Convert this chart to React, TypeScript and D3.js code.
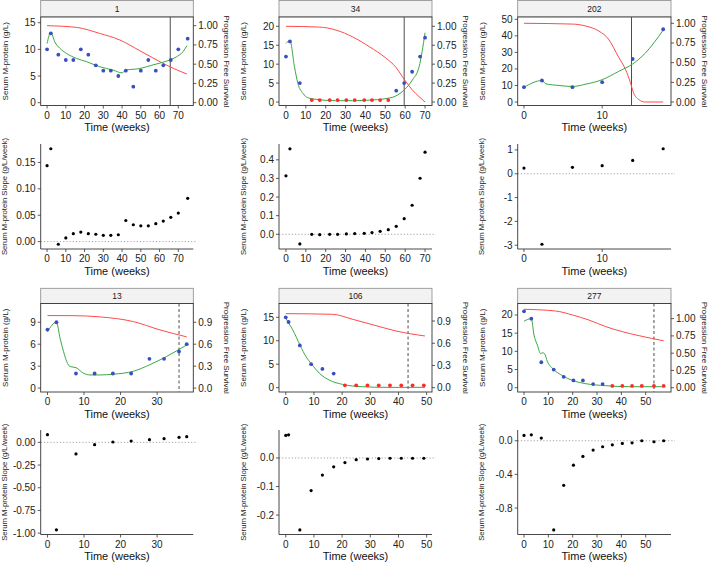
import React from "react";
import * as d3 from "d3";

// ---------------- Patient 1 ----------------
const p1Weeks = [0, 2, 6, 10, 14, 18, 22, 26, 30, 34, 38, 42, 46, 50, 54, 58, 62, 66, 70, 75];
const p1Mprot = [10, 13, 9, 8, 8, 10, 9, 7, 6, 6, 5, 6, 3, 6, 8, 6, 7, 8, 10, 12];
const p1Lod = [0, 0, 0, 0, 0, 0, 0, 0, 0, 0, 0, 0, 0, 0, 0, 0, 0, 0, 0, 0];
const p1Slope = [0.144, 0.176, -0.005, 0.007, 0.015, 0.018, 0.015, 0.014, 0.012, 0.012, 0.013, 0.04, 0.032, 0.03, 0.03, 0.034, 0.039, 0.046, 0.054, 0.082];
const p1FitWeeks = [0, 2, 4.1, 6.8, 10.3, 15.7, 21, 28, 35.3, 39.9, 42, 49.5, 56.6, 63.8, 69, 72.6, 74.6];
const p1FitVals = [11.1, 13.2, 11.4, 10.2, 9.25, 8.3, 7.7, 6.75, 6.1, 5.6, 6.1, 6.4, 7.1, 7.8, 8.6, 9.6, 10.7];
const p1SurvWeeks = [0, 15.7, 28, 38.8, 49.5, 60.2, 67.3, 74.6];
const p1SurvVals = [1.0, 0.978, 0.9, 0.814, 0.675, 0.532, 0.446, 0.372];

// ---------------- Patient 34 ----------------
const p34Weeks = [0, 2, 7, 13, 17, 22, 26, 30.4, 34.6, 39.4, 43.3, 47.4, 51.5, 55.5, 59.5, 63.5, 67.5, 70];
const p34Mprot = [12, 16, 5, 0.5, 0.5, 0.5, 0.5, 0.5, 0.5, 0.5, 0.5, 0.5, 0.5, 3, 5, 8, 12, 17];
const p34Lod = [0, 0, 0, 1, 1, 1, 1, 1, 1, 1, 1, 1, 1, 0, 0, 0, 0, 0];
const p34Slope = [0.314, 0.459, -0.052, 0, -0.002, 0, 0, 0.002, 0.004, 0.005, 0.009, 0.016, 0.025, 0.043, 0.084, 0.156, 0.301, 0.441];
const p34FitWeeks = [0, 2, 4.3, 6, 8.5, 11, 15.2, 25, 33.6, 42, 50.3, 55.3, 59.5, 63.6, 67, 70];
const p34FitVals = [15.5, 16.2, 9.3, 4.9, 2.3, 1.15, 0.7, 0.35, 0.35, 0.5, 0.9, 1.6, 3.2, 5.8, 9.3, 18.3];
const p34SurvWeeks = [0, 16.9, 25.2, 33.6, 42, 50.3, 55.3, 59.5, 63.6, 67, 70];
const p34SurvVals = [1.0, 0.99, 0.95, 0.86, 0.73, 0.58, 0.46, 0.3, 0.16, 0.07, 0.0];

// ---------------- Patient 202 ----------------
const p202Weeks = [0, 2.3, 6.2, 10, 13.9, 17.8];
const p202Mprot = [9, 13, 9, 12, 26, 44];
const p202Lod = [0, 0, 0, 0, 0, 0];
const p202Slope = [0.24, -2.96, 0.27, 0.34, 0.56, 1.05];
const p202FitWeeks = [0, 2.3, 2.8, 4.5, 6.2, 7.9, 10, 12.1, 13.9, 15.5, 17.8];
const p202FitVals = [8.9, 13, 11, 10, 9.4, 10.8, 13.5, 18.5, 23, 29.5, 43.5];
const p202SurvWeeks = [0, 6.2, 7.9, 9.6, 10.8, 12.1, 13, 13.6, 14, 14.7, 15.5, 17.8];
const p202SurvVals = [1.0, 0.99, 0.965, 0.9, 0.8, 0.57, 0.41, 0.25, 0.12, 0.03, 0.0, 0.0];

// ---------------- Patient 13 ----------------
const p13Weeks = [0, 2.45, 7.8, 12.9, 17.9, 22.9, 27.9, 31.9, 36, 38.1];
const p13Mprot = [8, 9, 2, 2, 2, 2, 4, 4, 5, 6];
const p13Lod = [0, 0, 0, 0, 0, 0, 0, 0, 0, 0];
const p13Slope = [0.084, -0.963, -0.128, -0.026, 0.004, 0.015, 0.029, 0.04, 0.055, 0.062];
const p13FitWeeks = [0, 2.45, 3.45, 4.4, 5.3, 6.2, 7.8, 9.8, 11.6, 14.4, 18, 23.5, 28, 32.5, 38.1];
const p13FitVals = [7.7, 9, 6.8, 5, 3.6, 2.95, 2.8, 2.05, 1.8, 1.8, 1.9, 2.3, 3.2, 4.3, 5.9];
const p13SurvWeeks = [0, 7, 14.4, 23.5, 30.8, 38.1];
const p13SurvVals = [0.991, 0.99, 0.973, 0.909, 0.795, 0.7];

// ---------------- Patient 106 ----------------
const p106Weeks = [0, 1, 5, 9, 13, 17, 21, 25, 29, 33, 37, 41, 45, 49];
const p106Mprot = [15, 14, 9, 5, 4, 3, 0.5, 0.5, 0.5, 0.5, 0.5, 0.5, 0.5, 0.5];
const p106Lod = [0, 0, 0, 0, 0, 0, 1, 1, 1, 1, 1, 1, 1, 1];
const p106Slope = [0.079, 0.081, -0.252, -0.114, -0.06, -0.031, -0.016, -0.006, -0.0035, -0.002, -0.001, -0.001, -0.001, -0.001];
const p106FitWeeks = [0, 0.8, 2.5, 5.1, 7.2, 9.2, 11.9, 15.5, 20.2, 27.3, 35.6, 49.4];
const p106FitVals = [14.8, 14, 12.3, 9, 6.6, 5, 3.1, 1.6, 0.7, 0.2, 0.07, 0.07];
const p106SurvWeeks = [0, 16.7, 23.8, 32, 39.1, 49.4];
const p106SurvVals = [1.0, 0.991, 0.923, 0.838, 0.766, 0.698];

// ---------------- Patient 277 ----------------
const p277Weeks = [0, 3, 7.1, 12.2, 16.3, 20.3, 24.2, 28.4, 32.3, 36.3, 40.4, 44.4, 48.4, 53.4, 57.4];
const p277Mprot = [21, 19, 7, 5, 3, 2, 2, 1, 1, 0.5, 0.5, 0.5, 0.5, 0.5, 0.5];
const p277Lod = [0, 0, 0, 0, 0, 0, 0, 0, 0, 1, 1, 1, 1, 1, 1];
const p277Slope = [0.063, 0.071, 0.032, -1.06, -0.53, -0.29, -0.186, -0.111, -0.071, -0.048, -0.032, -0.024, 0, -0.012, 0];
const p277FitWeeks = [0, 3, 4.1, 5.5, 6.8, 7.8, 8.4, 9.6, 12.2, 15.8, 19.9, 25.4, 33.6, 43, 57.4];
const p277FitVals = [18.3, 19, 14.5, 11.7, 9.4, 9.6, 9.4, 7.2, 5, 3.3, 2, 1.1, 0.55, 0.28, 0.28];
const p277SurvWeeks = [0, 13, 19.9, 26.7, 33.6, 40.4, 47.3, 57.4];
const p277SurvVals = [1.135, 1.11, 1.053, 0.979, 0.884, 0.811, 0.753, 0.679];

const patientIds = ["1", "34", "202", "13", "106", "277"];
const progressionWeeks = [65.7, 59.5, 13.75, 36, 43.4, 53.4];

// ---------------- layout ----------------
const cols = [
  { l: 40.7, r: 193.3 },
  { l: 279, r: 432 },
  { l: 517.7, r: 671 },
];
const topRows = [
  { strip: 0.5, top: 17, bottom: 105.5 },
  { strip: 288.3, top: 303.5, bottom: 392 },
];
const slopeRows = [
  { top: 144, bottom: 249 },
  { top: 430, bottom: 534.5 },
];

const FONT = "'Liberation Sans', Arial, Helvetica, sans-serif";
const AX = "#333333";
const BLUE = "#3a4fbf";
const REDPT = "#ff2b2b";
const GREEN = "#3aa845";
const REDLN = "#ff4a4a";

const fmt = (f: string) => {
  const g = d3.format(f);
  return (v: number) => g(v).replace("\u2212", "-");
};

type Cfg = {
  id: string;
  col: number;
  row: number;
  weeks: number[];
  mprot: number[];
  lod: number[];
  slope: number[];
  fitW: number[];
  fitV: number[];
  survW: number[];
  survV: number[];
  prog: number;
  dashed: boolean;
  xDom: [number, number];
  xTicks: number[];
  yDom: [number, number];
  yTicks: number[];
  survMax: number;
  survTicks: number[];
  survFmt: string;
  sDom: [number, number];
  sTicks: number[];
  sFmt: string;
};

const configs: Cfg[] = [
  {
    id: patientIds[0], col: 0, row: 0, weeks: p1Weeks, mprot: p1Mprot, lod: p1Lod, slope: p1Slope,
    fitW: p1FitWeeks, fitV: p1FitVals, survW: p1SurvWeeks, survV: p1SurvVals, prog: progressionWeeks[0], dashed: false,
    xDom: [-3.4, 78], xTicks: d3.range(0, 71, 10), yDom: [-0.53, 16.07], yTicks: [0, 5, 10, 15],
    survMax: 14.44, survTicks: [0, 0.25, 0.5, 0.75, 1], survFmt: ".2f",
    sDom: [-0.014, 0.185], sTicks: [0, 0.05, 0.1, 0.15], sFmt: ".2f",
  },
  {
    id: patientIds[1], col: 1, row: 0, weeks: p34Weeks, mprot: p34Mprot, lod: p34Lod, slope: p34Slope,
    fitW: p34FitWeeks, fitV: p34FitVals, survW: p34SurvWeeks, survV: p34SurvVals, prog: progressionWeeks[1], dashed: false,
    xDom: [-3.5, 73.5], xTicks: d3.range(0, 71, 10), yDom: [-0.92, 22.46], yTicks: [0, 5, 10, 15, 20],
    survMax: 20, survTicks: [0, 0.25, 0.5, 0.75, 1], survFmt: ".2f",
    sDom: [-0.079, 0.485], sTicks: [0, 0.1, 0.2, 0.3, 0.4], sFmt: ".1f",
  },
  {
    id: patientIds[2], col: 2, row: 0, weeks: p202Weeks, mprot: p202Mprot, lod: p202Lod, slope: p202Slope,
    fitW: p202FitWeeks, fitV: p202FitVals, survW: p202SurvWeeks, survV: p202SurvVals, prog: progressionWeeks[2], dashed: false,
    xDom: [-0.8, 18.8], xTicks: [0, 10], yDom: [-2.1, 51.4], yTicks: [0, 10, 20, 30, 40, 50],
    survMax: 47.6, survTicks: [0, 0.25, 0.5, 0.75, 1], survFmt: ".2f",
    sDom: [-3.16, 1.25], sTicks: [-3, -2, -1, 0, 1], sFmt: "d",
  },
  {
    id: patientIds[3], col: 0, row: 1, weeks: p13Weeks, mprot: p13Mprot, lod: p13Lod, slope: p13Slope,
    fitW: p13FitWeeks, fitV: p13FitVals, survW: p13SurvWeeks, survV: p13SurvVals, prog: progressionWeeks[3], dashed: true,
    xDom: [-1.85, 39.9], xTicks: [0, 10, 20, 30], yDom: [-0.53, 11.56], yTicks: [0, 3, 6, 9],
    survMax: 10, survTicks: [0, 0.3, 0.6, 0.9], survFmt: ".1f",
    sDom: [-1.015, 0.136], sTicks: [-1, -0.75, -0.5, -0.25, 0], sFmt: ".2f",
  },
  {
    id: patientIds[4], col: 1, row: 1, weeks: p106Weeks, mprot: p106Mprot, lod: p106Lod, slope: p106Slope,
    fitW: p106FitWeeks, fitV: p106FitVals, survW: p106SurvWeeks, survV: p106SurvVals, prog: progressionWeeks[4], dashed: true,
    xDom: [-2.4, 51.9], xTicks: d3.range(0, 51, 10), yDom: [-0.92, 17.94], yTicks: [0, 5, 10, 15],
    survMax: 15.78, survTicks: [0, 0.3, 0.6, 0.9], survFmt: ".1f",
    sDom: [-0.268, 0.098], sTicks: [-0.2, -0.1, 0], sFmt: ".1f",
  },
  {
    id: patientIds[5], col: 2, row: 1, weeks: p277Weeks, mprot: p277Mprot, lod: p277Lod, slope: p277Slope,
    fitW: p277FitWeeks, fitV: p277FitVals, survW: p277SurvWeeks, survV: p277SurvVals, prog: progressionWeeks[5], dashed: true,
    xDom: [-2.6, 60.4], xTicks: d3.range(0, 51, 10), yDom: [-1.18, 23.16], yTicks: [0, 5, 10, 15, 20],
    survMax: 19, survTicks: [0, 0.25, 0.5, 0.75, 1], survFmt: ".2f",
    sDom: [-1.115, 0.128], sTicks: [-0.8, -0.4, 0], sFmt: ".1f",
  },
];

function XAxis({ x, ticks, y0, tickFmt }: { x: d3.ScaleLinear<number, number>; ticks: number[]; y0: number; tickFmt: (v: number) => string }) {
  return (
    <g>
      {ticks.map((t) => (
        <g key={t}>
          <line x1={x(t)} x2={x(t)} y1={y0} y2={y0 + 3} stroke={AX} strokeWidth={0.8} />
          <text x={x(t)} y={y0 + 13.2} textAnchor="middle" fontSize={10} fill="#222">
            {tickFmt(t)}
          </text>
        </g>
      ))}
      <text x={(x.range()[0] + x.range()[1]) / 2} y={y0 + 25.8} textAnchor="middle" fontSize={11} fill="#111">
        Time (weeks)
      </text>
    </g>
  );
}

function TopPanel({ p }: { p: Cfg }) {
  const c = cols[p.col];
  const r = topRows[p.row];
  const x = d3.scaleLinear().domain(p.xDom).range([c.l, c.r]);
  const y = d3.scaleLinear().domain(p.yDom).range([r.bottom, r.top]);
  const ys = (s: number) => y(s * p.survMax);
  const fit = d3
    .line<number>()
    .x((_, i) => x(p.fitW[i]))
    .y((d) => y(d))
    .curve(d3.curveMonotoneX)(p.fitV);
  const surv = d3
    .line<number>()
    .x((_, i) => x(p.survW[i]))
    .y((d) => ys(d))
    .curve(d3.curveMonotoneX)(p.survV);
  const yf = fmt("d");
  const sf = fmt(p.survFmt);
  const midY = (r.top + r.bottom) / 2;
  return (
    <g fontFamily={FONT}>
      {/* strip */}
      <rect x={c.l} y={r.strip} width={c.r - c.l} height={r.top - r.strip} fill="#f2f2f2" stroke="#8a8a8a" strokeWidth={0.8} />
      <text x={(c.l + c.r) / 2} y={(r.strip + r.top) / 2} dy="0.35em" textAnchor="middle" fontSize={8.5} fill="#1a1a1a">
        {p.id}
      </text>
      {/* panel */}
      <rect x={c.l} y={r.top} width={c.r - c.l} height={r.bottom - r.top} fill="white" stroke={AX} strokeWidth={0.9} />
      {/* progression line */}
      <line
        x1={x(p.prog)} x2={x(p.prog)} y1={r.top} y2={r.bottom}
        stroke="#4d4d4d" strokeWidth={1} strokeDasharray={p.dashed ? "3,2.5" : undefined}
      />
      <path d={surv || ""} fill="none" stroke={REDLN} strokeWidth={1} />
      <path d={fit || ""} fill="none" stroke={GREEN} strokeWidth={1} />
      {p.weeks.map((w, i) => (
        <circle key={i} cx={x(w)} cy={y(p.mprot[i])} r={1.9} fill={p.lod[i] ? REDPT : BLUE} />
      ))}
      {/* left axis */}
      {p.yTicks.map((t) => (
        <g key={"l" + t}>
          <line x1={c.l - 3} x2={c.l} y1={y(t)} y2={y(t)} stroke={AX} strokeWidth={0.8} />
          <text x={c.l - 5} y={y(t)} dy="0.35em" textAnchor="end" fontSize={10} fill="#222">
            {yf(t)}
          </text>
        </g>
      ))}
      {/* right axis */}
      {p.survTicks.map((t) => (
        <g key={"r" + t}>
          <line x1={c.r} x2={c.r + 3} y1={ys(t)} y2={ys(t)} stroke={AX} strokeWidth={0.8} />
          <text x={c.r + 5} y={ys(t)} dy="0.35em" textAnchor="start" fontSize={10} fill="#222">
            {sf(t)}
          </text>
        </g>
      ))}
      <XAxis x={x} ticks={p.xTicks} y0={r.bottom} tickFmt={fmt("d")} />
      <text transform={`translate(${c.l - 36},${midY}) rotate(-90)`} textAnchor="middle" dy="0.35em" fontSize={8} fill="#222">
        Serum M-protein (g/L)
      </text>
      <text transform={`translate(${c.r + 34},${midY}) rotate(90)`} textAnchor="middle" dy="0.35em" fontSize={8} fill="#222">
        Progression Free Survival
      </text>
    </g>
  );
}

function SlopePanel({ p }: { p: Cfg }) {
  const c = cols[p.col];
  const r = slopeRows[p.row];
  const x = d3.scaleLinear().domain(p.xDom).range([c.l, c.r]);
  const y = d3.scaleLinear().domain(p.sDom).range([r.bottom, r.top]);
  const sf = fmt(p.sFmt);
  const midY = (r.top + r.bottom) / 2;
  return (
    <g fontFamily={FONT}>
      <line x1={c.l} x2={c.r + 4} y1={y(0)} y2={y(0)} stroke="#8c8c8c" strokeWidth={0.8} strokeDasharray="1.2,2" />
      {p.weeks.map((w, i) => (
        <circle key={i} cx={x(w)} cy={y(p.slope[i])} r={1.6} fill="#000" />
      ))}
      <line x1={c.l} x2={c.l} y1={r.top} y2={r.bottom} stroke={AX} strokeWidth={0.9} />
      <line x1={c.l} x2={c.r} y1={r.bottom} y2={r.bottom} stroke={AX} strokeWidth={0.9} />
      {p.sTicks.map((t) => (
        <g key={t}>
          <line x1={c.l - 3} x2={c.l} y1={y(t)} y2={y(t)} stroke={AX} strokeWidth={0.8} />
          <text x={c.l - 5} y={y(t)} dy="0.35em" textAnchor="end" fontSize={10} fill="#222">
            {sf(t)}
          </text>
        </g>
      ))}
      <XAxis x={x} ticks={p.xTicks} y0={r.bottom} tickFmt={fmt("d")} />
      <text transform={`translate(${c.l - 36},${midY}) rotate(-90)`} textAnchor="middle" dy="0.35em" fontSize={7.7} fill="#222">
        Serum M-protein Slope (g/L/week)
      </text>
    </g>
  );
}

export default function App() {
  return (
    <svg
      width={709}
      height={564}
      viewBox="0 0 709 564"
      style={{ position: "fixed", left: 0, top: 0, background: "white" }}
    >
      <rect x={0} y={0} width={709} height={564} fill="white" />
      {configs.map((p) => (
        <g key={p.id}>
          <TopPanel p={p} />
          <SlopePanel p={p} />
        </g>
      ))}
    </svg>
  );
}
